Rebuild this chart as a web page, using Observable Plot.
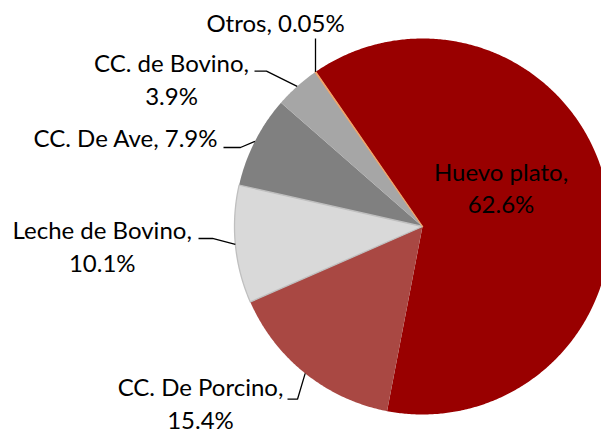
<!DOCTYPE html>
<html><head><meta charset="utf-8">
<script src="https://cdn.jsdelivr.net/npm/d3@7"></script>
<script src="https://cdn.jsdelivr.net/npm/@observablehq/plot@0.6"></script>
<style>html,body{margin:0;padding:0;background:#fff;overflow:hidden;}</style>
</head><body><div id="chart"></div>
<script>
// ---- data ----
const categories = ["Huevo plato", "CC. De Porcino", "Leche de Bovino", "CC. De Ave", "CC. de Bovino", "Otros"];
const shares = [62.6, 15.4, 10.1, 7.9, 3.9, 0.05];
const shareLabels = ["62.6%", "15.4%", "10.1%", "7.9%", "3.9%", "0.05%"];
const labelTexts = ["Huevo plato,\n62.6%", "CC. De Porcino,\n15.4%", "Leche de Bovino,\n10.1%", "CC. De Ave, 7.9%", "CC. de Bovino,\n3.9%", "Otros, 0.05%"];

// ---- styles / layout ----
const colors = ["#990000", "#A94843", "#D9D9D9", "#808080", "#A6A6A6", "#EFA46A"];
const outlineColors = [null, null, "#BFBFBF", null, null, "#EFA46A"];
const cx = 422, cy = 226, R = 188;
const startDeg = -34.6;
const fontFamily = "Lato, 'Open Sans', sans-serif";
const fontSize = 24;
// label anchors in pie-radius units (bottom line baseline, centred)
const labelPos = [[0.4176, 0.0707], [-1.1809, -1.0745], [-1.7037, -0.2394], [-1.5798, 0.4218], [-1.3351, 0.6489], [-0.7819, 1.0372]];
// leader elbow points (text side) in pie-radius units; null = inside label
const leaderPts = [null, [[-0.7181, -0.9186], [-0.6649, -0.9186]], [[-1.1915, -0.0638], [-1.1170, -0.0638]], [[-1.0585, 0.4202], [-0.9681, 0.4202]], [[-0.8936, 0.8261], [-0.8298, 0.8261]], "vertical"];

// ---- geometry ----
const total = d3.sum(shares);
let acc = startDeg;
const slices = categories.map((c, i) => {
  const a0 = acc, a1 = acc + shares[i] / total * 360; acc = a1;
  return {category: c, a0, a1, mid: (a0 + a1) / 2, i};
});
const rad = d => d * Math.PI / 180;
const polar = (deg, r = 1) => ({x: r * Math.sin(rad(deg)), y: r * Math.cos(rad(deg))});
const piePts = slices.flatMap(s => {
  const n = Math.max(2, Math.ceil((s.a1 - s.a0) / 0.5));
  const pts = [{category: s.category, x: 0, y: 0}];
  for (let k = 0; k <= n; k++) pts.push({category: s.category, ...polar(s.a0 + (s.a1 - s.a0) * k / n)});
  return pts;
});
const outlined = slices.filter(s => outlineColors[s.i]);
const leaders = slices.flatMap(s => {
  const lp = leaderPts[s.i];
  if (!lp) return [];
  const rim = polar(s.mid);
  if (lp === "vertical") return [{id: s.category, x: rim.x, y: 1.0}, {id: s.category, ...rim}];
  return [...lp.map(([x, y]) => ({id: s.category, x, y})), {id: s.category, ...rim}];
});
const labels = slices.map(s => ({x: labelPos[s.i][0], y: labelPos[s.i][1], text: labelTexts[s.i]}));

const chart = Plot.plot({
  width: 601, height: 433, margin: 0,
  x: {domain: [-1, 1], range: [cx - R, cx + R], axis: null},
  y: {domain: [-1, 1], range: [cy + R, cy - R], axis: null},
  color: {domain: categories, range: colors},
  style: {fontFamily, background: "#fff", overflow: "hidden"},
  marks: [
    Plot.line(piePts, {x: "x", y: "y", z: "category", fill: "category", stroke: null, curve: "linear-closed"}),
    ...outlined.map(s => Plot.line(piePts.filter(p => p.category === s.category), {x: "x", y: "y", stroke: outlineColors[s.i], strokeWidth: 1.3, fill: "none", curve: "linear-closed"})),
    Plot.line(leaders, {x: "x", y: "y", z: "id", stroke: "#000", strokeWidth: 1.3, strokeLinecap: "butt", strokeLinejoin: "miter"}),
    Plot.text(labels, {x: "x", y: "y", text: "text", lineAnchor: "bottom", textAnchor: "middle", fontSize, lineHeight: 32.5 / fontSize, fill: "#000"})
  ]
});
document.getElementById("chart").append(chart);
</script>
</body></html>
